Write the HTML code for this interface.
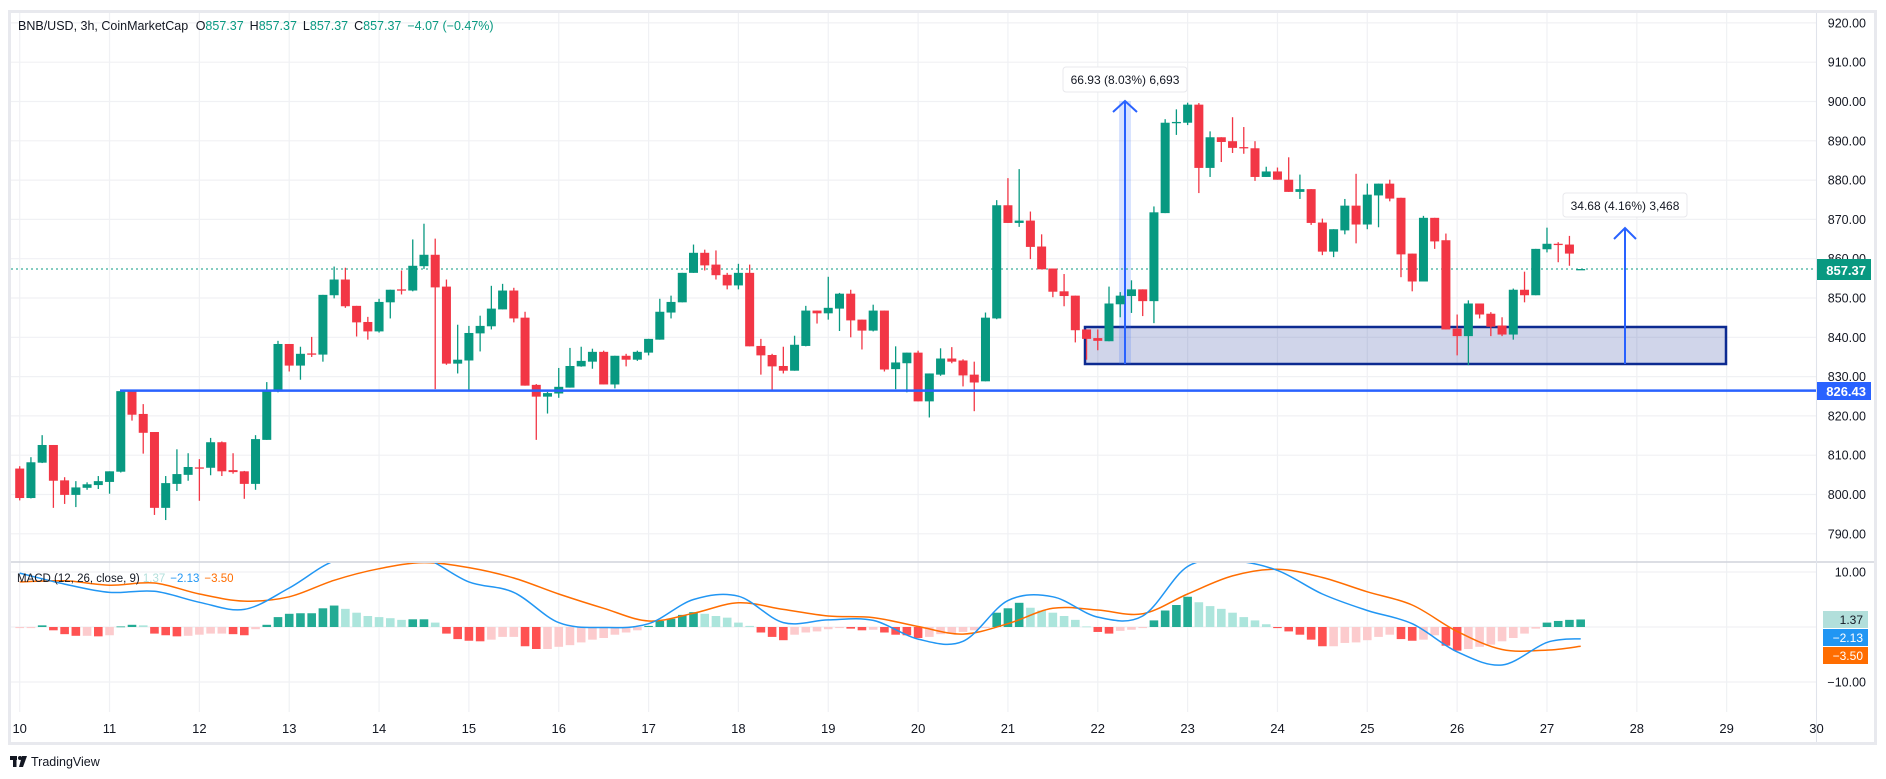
<!DOCTYPE html>
<html><head><meta charset="utf-8"><style>
html,body{margin:0;padding:0;background:#fff;}
svg{display:block;font-family:"Liberation Sans",sans-serif;}
</style></head><body>
<svg id="chart" width="1886" height="779" viewBox="0 0 1886 779">
<defs>
<clipPath id="mainClip"><rect x="11" y="13" width="1805" height="548"/></clipPath>
<clipPath id="macdClip"><rect x="11" y="563" width="1805" height="180"/></clipPath>
</defs>
<rect x="0" y="0" width="1886" height="779" fill="#fff"/>
<g id="grid"></g>
<g id="overlayBack" clip-path="url(#mainClip)">
  <rect x="1085" y="327" width="641" height="37" fill="rgba(41,62,160,0.22)" stroke="#0c2a91" stroke-width="2.5"/>
  <rect x="1119" y="101" width="12" height="263" fill="rgba(41,98,255,0.18)"/>
  <line x1="1125" y1="101" x2="1125" y2="364" stroke="#2962ff" stroke-width="2"/>
  <polyline points="1113,112 1125,101 1137,112" fill="none" stroke="#2962ff" stroke-width="2"/>
  <line x1="1625" y1="228" x2="1625" y2="364" stroke="#2962ff" stroke-width="2"/>
  <polyline points="1614,239 1625,228 1636,239" fill="none" stroke="#2962ff" stroke-width="2"/>
</g>
<line x1="11" y1="269" x2="1816" y2="269" stroke="#089981" stroke-width="1" stroke-dasharray="2,3"/>
<g id="candles" clip-path="url(#mainClip)"></g>
<line x1="120" y1="390.6" x2="1816" y2="390.6" stroke="#2962ff" stroke-width="2.5"/>
<g>
  <rect x="1063" y="67" width="124" height="25" rx="3" fill="#fff" stroke="#e8e8ec"/>
  <text x="1125" y="84" font-size="12" fill="#131722" text-anchor="middle">66.93 (8.03%) 6,693</text>
</g>
<g>
  <rect x="1563" y="193" width="124" height="24" rx="3" fill="#fff" stroke="#e8e8ec"/>
  <text x="1625" y="210" font-size="12" fill="#131722" text-anchor="middle">34.68 (4.16%) 3,468</text>
</g>
<g id="macd" clip-path="url(#macdClip)"></g>
<line x1="10" y1="562" x2="1876" y2="562" stroke="#d1d4dc" stroke-width="1.5"/>
<line x1="1816.5" y1="12" x2="1816.5" y2="744" stroke="#e0e3eb" stroke-width="1"/>
<rect x="9.5" y="11.5" width="1866" height="732" fill="none" stroke="#e8e9ee" stroke-width="3"/>
<g id="axes"></g>
<text x="18" y="30" font-size="12.5" fill="#131722">BNB/USD, 3h, CoinMarketCap <tspan dx="4">O</tspan><tspan fill="#089981">857.37</tspan><tspan dx="6">H</tspan><tspan fill="#089981">857.37</tspan><tspan dx="6">L</tspan><tspan fill="#089981">857.37</tspan><tspan dx="6">C</tspan><tspan fill="#089981">857.37</tspan><tspan dx="6" fill="#089981">−4.07 (−0.47%)</tspan></text>
<text x="17" y="582" font-size="11.5" fill="#131722">MACD (12, 26, close, 9) <tspan fill="#b2dfdb">1.37</tspan><tspan dx="5" fill="#2196f3">−2.13</tspan><tspan dx="5" fill="#ff6d00">−3.50</tspan></text>
<rect x="1817" y="259" width="54" height="21" fill="#089981"/>
<text x="1866" y="275" font-size="13" font-weight="bold" fill="#fff" text-anchor="end">857.37</text>
<rect x="1817" y="382" width="54" height="18" fill="#2962ff"/>
<text x="1866" y="396" font-size="13" font-weight="bold" fill="#fff" text-anchor="end">826.43</text>
<rect x="1823" y="611" width="45" height="17" fill="#b2dfdb"/>
<text x="1863" y="624" font-size="12" fill="#131722" text-anchor="end">1.37</text>
<rect x="1823" y="629" width="45" height="17" fill="#2196f3"/>
<text x="1863" y="642" font-size="12" fill="#fff" text-anchor="end">−2.13</text>
<rect x="1823" y="647" width="45" height="17" fill="#ff6d00"/>
<text x="1863" y="660" font-size="12" fill="#fff" text-anchor="end">−3.50</text>
<g>
  <rect x="10" y="756" width="7" height="4" fill="#131722"/>
  <rect x="13" y="756" width="3.5" height="11" fill="#131722"/>
  <circle cx="20" cy="758" r="2" fill="#131722"/>
  <polygon points="22,756 27,756 23,767 19,767" fill="#131722"/>
  <text x="31" y="766" font-size="12.5" fill="#131722">TradingView</text>
</g>
</svg>
<script>
const opens=[806.6,799.1,808.1,812.6,803.6,799.9,801.7,802.4,803.2,805.8,826.3,820.5,815.9,796.6,802.7,805,806.9,806.8,813.3,806.2,805.9,802.7,813.9,826.2,838.3,832.8,835.9,835.6,850.7,854.7,848,843.9,841.5,848.9,852.2,851.9,858.1,861,852.9,833.3,834.1,841,842.8,847.1,851.9,845,827.9,824.9,825.7,827.2,832.6,833.8,836.3,828,835.3,834.3,836.1,839.4,846.3,848.9,856.4,861.5,858.5,855.9,853.2,856.4,837.8,835.5,832.7,831.5,837.8,846.8,846.1,847.3,851.1,844.5,841.7,846.8,831.9,833.4,836.1,823.7,830.5,834.6,834.1,830.5,828.8,844.8,873.6,869.1,869.7,863.1,857.5,851.7,850.6,842,839.8,839,848.4,850.5,852.2,849.2,871.6,894.6,894.6,899.2,883.1,890.9,889.9,888.4,888.1,880.8,882.2,880.1,877,877.7,869.2,861.8,867.2,873.5,868.7,876.1,879.1,875.5,861.3,854.2,870.4,864.7,842.2,840.3,848.6,846,843,840.7,852.1,850.7,862.4,863.8,863.6,857.37];
const highs=[807.2,809.5,815.1,812.6,804.4,803.4,803.1,804.7,805.9,826.3,826.4,823.0,815.9,804.7,811.5,810.5,809,814.4,813.5,810.5,806,815.1,828.6,839.1,838.3,837.6,840.1,850.8,858,857.7,848,845.2,849.8,852.1,857,864.9,868.9,865.1,854.7,843.2,842.9,845.5,853.1,853.6,852.6,846.5,828.1,826.1,832.2,837.3,837.6,837.1,836.6,835.3,835.8,836.6,839.6,849.8,850.6,856.4,863.6,862.3,862.1,856.4,858.7,858.5,839.6,835.8,837.6,840.4,848,846.8,855.4,851.3,852.1,844.5,848.3,846.8,837.7,836.1,836.6,830.8,837.2,837.5,834.4,833.8,846.3,874.9,880.5,882.8,872,866.2,857.5,856.1,850.6,842,842,852.9,851.5,854.5,852.2,873.3,895.5,898,899.7,899.6,892.4,890.9,896,893.5,889.9,883.4,883.2,885.8,881.4,877.7,870.2,867.5,875.2,881.6,879.1,879.1,880.1,875.5,861.3,870.9,870.4,866.4,845.8,849.4,848.6,846.4,845.1,852.4,856.7,862.5,867.9,864.2,865.8,857.37];
const lows=[798.5,799,808,796.6,797.6,796.8,801.2,801.4,800.2,805.6,818.8,810.4,794.8,793.5,800.9,803.5,798.4,804.9,804.7,805.3,798.9,801.2,813.9,826,831.3,829.2,835,833.8,849.9,847.5,840.2,839.4,841.2,844.8,850.9,851.7,857.4,826.8,833,830.8,826.2,836.4,842,847.1,843.8,827.7,813.9,820.6,824.6,827.2,832.5,832,828,827,832.6,834,835.4,839.4,844.8,848.9,856.4,857,854.7,852.2,852.2,837.7,830.5,826.7,830.8,831.5,837.7,843.5,844.5,841.6,840,836.9,841.5,831.3,826.8,826,823.7,819.6,830.2,833.4,827.5,821.2,828.8,844.6,869.1,868.1,859.9,857.3,850.2,847.9,838.7,834.3,836.7,839,845.1,846.2,845.4,843.6,871.6,891.5,894,876.7,880.8,884.6,886.9,886.7,879.8,880.8,880.1,877,875.2,868.6,860.9,860.4,866.2,863.9,867.5,868,874.6,855.3,851.7,854.2,862.5,842,835.4,832.9,844.8,840.3,840.3,839.4,848.9,850.7,861.6,859.1,858.2,857.37];
const closes=[799.1,808.2,812.6,803.5,799.9,801.8,802.6,803.4,805.9,826.3,820.3,815.7,796.6,802.9,805.2,807,806.7,813.3,805.9,805.7,802.7,814.1,826.3,838.3,832.8,835.8,835.7,850.8,854.7,847.9,843.8,841.5,849,852.1,851.9,858.2,861,852.7,833.3,834.3,841.1,842.9,847.3,851.9,844.8,827.7,824.9,825.8,827.4,832.7,834,836.3,828,835.3,834.3,836.3,839.6,846.5,849,856.4,861.5,858.3,855.8,853.2,856.4,837.7,835.4,832.6,831.5,838.1,846.8,846.1,847.5,851.1,844.3,841.7,846.8,831.8,833.6,836.1,823.7,830.8,834.6,833.8,830.3,828.5,845,873.6,869.1,869.7,863,857.3,851.6,850.5,841.8,839.6,839.1,848.6,850.6,852.2,849.2,871.8,894.6,894.8,899.2,883.1,890.9,889.7,888.2,888.2,880.8,882.2,880.1,877,877.7,869.1,861.8,867.5,873.5,868.7,876.3,879.1,875.3,861.1,854.2,870.4,864.4,842,840.3,848.6,845.8,842.7,840.7,852.1,850.7,862.5,863.8,863.6,861.3,857.37];
const histValues=[-0.2,-0.2,0.3,-0.6,-1.3,-1.6,-1.6,-1.7,-1.5,0.1,0.4,0.3,-1.2,-1.5,-1.7,-1.6,-1.4,-1.2,-1.2,-1.3,-1.5,-0.4,0.4,1.8,2.4,2.5,2.5,3.4,3.9,3.3,2.6,2.0,1.8,1.6,1.3,1.4,1.4,0.8,-1.2,-2.2,-2.5,-2.6,-2.3,-1.8,-1.8,-3.5,-4.0,-4.0,-3.6,-3.3,-2.8,-2.3,-2.0,-1.4,-1.0,-0.6,0.2,1.1,1.5,2.2,2.7,2.4,2.0,1.7,0.8,0.2,-1.0,-1.8,-2.4,-1.4,-1.0,-0.8,-0.4,-0.2,-0.3,-0.6,-0.5,-1.0,-1.4,-1.5,-2.0,-1.8,-1.3,-1.2,-0.9,-0.6,-0.2,2.6,3.4,4.4,3.5,3.0,2.6,2.0,1.3,0.1,-0.9,-1.2,-0.7,-0.5,-0.2,1.2,3.0,4.0,5.5,4.5,3.8,3.3,2.6,1.8,1.2,0.5,-0.2,-0.8,-1.4,-2.3,-3.5,-3.5,-2.9,-2.8,-2.4,-1.8,-1.4,-2.2,-2.5,-2.3,-1.5,-3.4,-4.3,-4.0,-3.6,-3.2,-2.6,-2.0,-1.2,-0.3,0.8,1.1,1.3,1.37];
const lineSampleBars=[0,4,8,12,16,20,24,28,32,36,40,44,48,52,56,60,64,68,72,76,80,84,88,92,96,100,104,108,112,116,120,124,128,132,136,139];
const macdValues=[9.8,7.8,6.3,6.5,4.5,3.2,7.1,12,13,12.5,8.2,6.3,0.8,-0.1,0.6,5.0,5.6,0.8,1.3,1.2,-2.2,-2.6,4.8,5.5,1.8,2.0,11.0,12.0,10.3,6.0,3.0,0.6,-4.5,-6.9,-2.8,-2.13];
const signalValues=[8.2,8.4,7.6,8.0,6.0,4.7,5.5,8.5,10.6,11.7,10.8,8.9,6.0,3.4,1.1,2.5,4.4,3.2,2.0,1.7,0.1,-1.3,0.6,3.4,3.1,2.4,6.0,9.3,10.5,9.0,6.4,4.0,-0.8,-4.1,-4.2,-3.5];
const priceTicks=[920,910,900,890,880,870,860,850,840,830,820,810,800,790];
const macdTicks=[10,0,-10];
const macdTickLabels=["10.00","","−10.00"];
const dayLabels=["10","11","12","13","14","15","16","17","18","19","20","21","22","23","24","25","26","27","28","29","30"];

const NS="http://www.w3.org/2000/svg";
const BARS_PER_DAY=8;
function xOf(i){return 19.7+11.23*i;}
function yP(p){return 22.9+(920-p)*3.93;}
function yM(v){return 627-v*5.5;}
function mk(tag,attrs,parent){const e=document.createElementNS(NS,tag);for(const k in attrs)e.setAttribute(k,attrs[k]);parent.appendChild(e);return e;}

const grid=document.getElementById('grid');
const axes=document.getElementById('axes');
priceTicks.forEach(p=>{
  const l=mk('line',{x1:11,x2:1816,y1:yP(p),y2:yP(p),stroke:'#f0f1f4','stroke-width':1.2},grid);
  
  
  const t=mk('text',{x:1866,y:yP(p)+4.5,'font-size':12.5,fill:'#131722','text-anchor':'end'},axes);
  t.textContent=p.toFixed(2);
  
  
});
macdTicks.forEach((v,k)=>{
  const l=mk('line',{x1:11,x2:1816,y1:yM(v),y2:yM(v),stroke:'#f0f1f4','stroke-width':1.2},grid);
  
  
  if(macdTickLabels[k]){
    const t=mk('text',{x:1866,y:yM(v)+4.5,'font-size':12.5,fill:'#131722','text-anchor':'end'},axes);
    t.textContent=macdTickLabels[k];
    
    
  }
});
dayLabels.forEach((d,k)=>{
  const x=xOf(k*BARS_PER_DAY);
  const l=mk('line',{x1:x,x2:x,y1:13,y2:712,stroke:'#f0f1f4','stroke-width':1.2},grid);
  
  
  const t=mk('text',{x:x,y:733,'font-size':13,fill:'#131722','text-anchor':'middle'},axes);
  t.textContent=d;
  
  
});

const cg=document.getElementById('candles');
for(let i=0;i<opens.length;i++){
  const o=opens[i],h=highs[i],l=lows[i],c=closes[i];
  const col=c>=o?'#089981':'#f23645';
  const x=xOf(i);
  const w=mk('line',{x1:x,x2:x,y1:yP(h),y2:yP(l),stroke:col,'stroke-width':1.3},cg);
  
  
  const top=Math.min(yP(o),yP(c)),bh=Math.max(1.3,Math.abs(yP(o)-yP(c)));
  const b=mk('rect',{x:x-4.5,y:top,width:9,height:bh,fill:col},cg);
  
  
}

const mg=document.getElementById('macd');
for(let i=0;i<histValues.length;i++){
  const v=histValues[i],prev=i>0?histValues[i-1]:v;
  let col;
  if(v>=0)col=v>=prev?'#22ab94':'#ace5dc';else col=v<prev?'#ff5252':'#fccbcd';
  const y0=yM(0),y1=yM(v);
  const r=mk('rect',{x:xOf(i)-4.3,y:Math.min(y0,y1),width:8.6,height:Math.max(0.8,Math.abs(y1-y0)),fill:col},mg);
  
  
}
function pathFor(vals){
  const pts=lineSampleBars.map((b,k)=>[xOf(b),yM(vals[k])]);
  let d='M'+pts[0][0].toFixed(1)+','+pts[0][1].toFixed(1);
  for(let k=0;k<pts.length-1;k++){
    const p0=pts[Math.max(0,k-1)],p1=pts[k],p2=pts[k+1],p3=pts[Math.min(pts.length-1,k+2)];
    const c1x=p1[0]+(p2[0]-p0[0])/6,c1y=p1[1]+(p2[1]-p0[1])/6;
    const c2x=p2[0]-(p3[0]-p1[0])/6,c2y=p2[1]-(p3[1]-p1[1])/6;
    d+=' C'+c1x.toFixed(1)+','+c1y.toFixed(1)+' '+c2x.toFixed(1)+','+c2y.toFixed(1)+' '+p2[0].toFixed(1)+','+p2[1].toFixed(1);
  }
  return d;
}
const sig=mk('path',{d:pathFor(signalValues),fill:'none',stroke:'#ff6d00','stroke-width':1.5,'stroke-linejoin':'round'},mg);


const mac=mk('path',{d:pathFor(macdValues),fill:'none',stroke:'#2196f3','stroke-width':1.5,'stroke-linejoin':'round'},mg);


</script>
</body></html>
